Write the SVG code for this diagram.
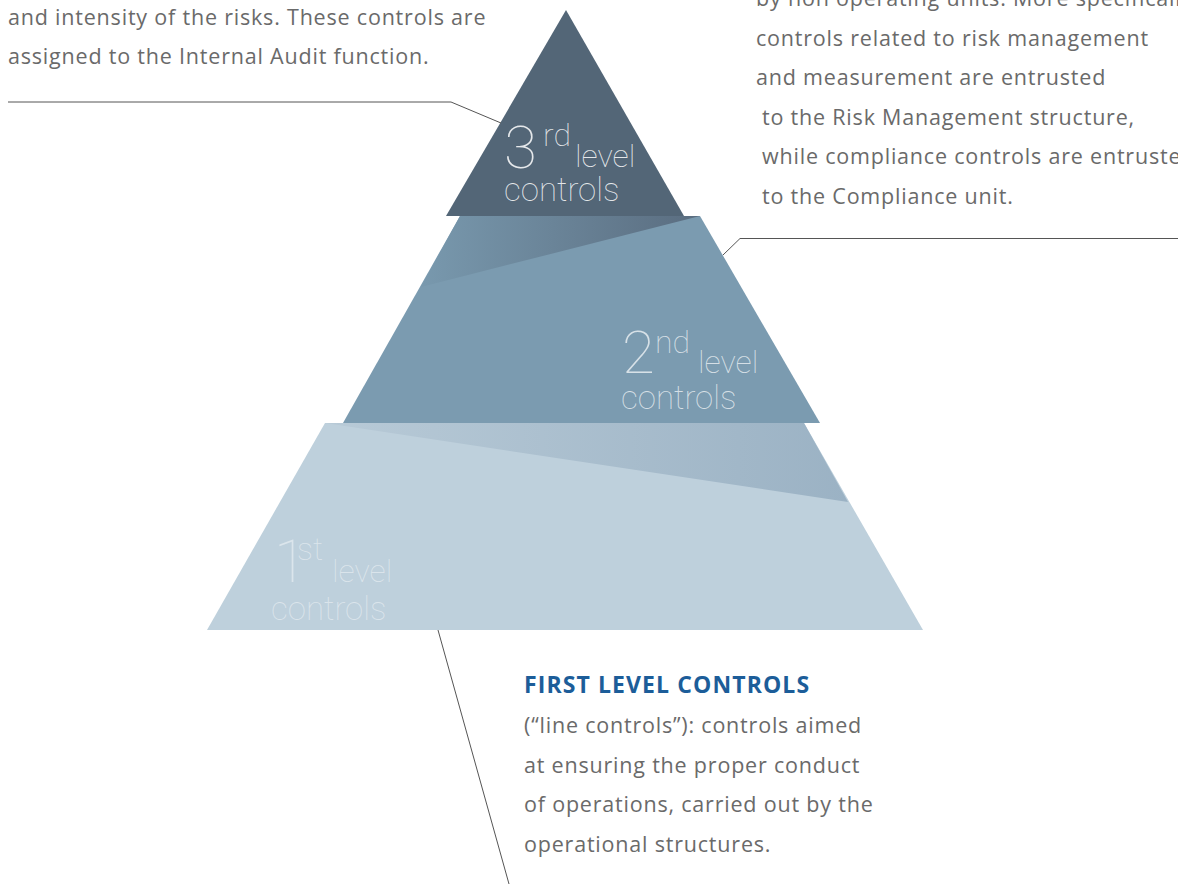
<svg xmlns="http://www.w3.org/2000/svg" width="1178" height="884" viewBox="0 0 1178 884">
<style>
.body{font-family:"Open Sans","Liberation Sans",sans-serif;font-size:21.5px;fill:#6a6a6a;letter-spacing:0.8px}
.head{font-family:"Open Sans","Liberation Sans",sans-serif;font-size:23px;font-weight:700;fill:#1c5d99;letter-spacing:1.1px}
.lbl{font-family:Roboto,"Liberation Sans",sans-serif;font-weight:100;fill:#fff}
.big{font-size:60px}
.mid{font-size:32px}
.ctl{font-size:33px}
.lead{fill:none;stroke:#555;stroke-width:1}
</style>
<defs>
<linearGradient id="g2" gradientUnits="userSpaceOnUse" x1="425" y1="0" x2="700" y2="0">
<stop offset="0" stop-color="#7898ad"/>
<stop offset="1" stop-color="#5a6d80"/>
</linearGradient>
<linearGradient id="g1" gradientUnits="userSpaceOnUse" x1="325" y1="0" x2="848" y2="0">
<stop offset="0" stop-color="#b8cad7"/>
<stop offset="1" stop-color="#9bb2c4"/>
</linearGradient>
</defs>
<rect width="1178" height="884" fill="#fff"/>

<g id="level1">
<polygon points="325,423 804,423 923,630 207,630" fill="#bed0dc"/>
<polygon points="325,423 804,423 848,502" fill="url(#g1)"/>
<text class="lbl" fill-opacity="0.45" x="274" y="582"><tspan class="big">1</tspan><tspan class="mid" x="297" y="560">st</tspan><tspan class="mid" x="332" y="582">level</tspan><tspan class="ctl" x="271" y="620">controls</tspan></text>
</g>

<g id="level2">
<polygon points="460,216 700,216 820,423 343,423" fill="#7b9bb0"/>
<polygon points="460,216 700,216 421,287" fill="url(#g2)"/>
<text class="lbl" fill-opacity="0.7" x="622" y="373"><tspan class="big">2</tspan><tspan class="mid" x="655" y="353">nd</tspan><tspan class="mid" x="698" y="373">level</tspan><tspan class="ctl" x="621" y="409">controls</tspan></text>
</g>

<g id="level3">
<polygon points="566,10 684,216 446,216" fill="#536677"/>
<text class="lbl" fill-opacity="0.85" x="504" y="168"><tspan class="big">3</tspan><tspan class="mid" x="543" y="146">rd</tspan><tspan class="mid" x="575" y="167">level</tspan><tspan class="ctl" x="504" y="201">controls</tspan></text>
</g>

<g id="connectors">
<polyline class="lead" points="8,102 451,102 501,123"/>
<polyline class="lead" points="1178,238.5 740,238.5 723,255"/>
<line class="lead" x1="438" y1="630" x2="509" y2="884"/>
</g>

<g id="text3">
<text class="body" x="8" y="25">and intensity of the risks. These controls are</text>
<text class="body" x="8" y="64">assigned to the Internal Audit function.</text>
</g>

<g id="text2">
<text class="body" x="756" y="6">by non operating units. More specifically</text>
<text class="body" x="756" y="45.5">controls related to risk management</text>
<text class="body" x="756" y="85">and measurement are entrusted</text>
<text class="body" x="762" y="124.5">to the Risk Management structure,</text>
<text class="body" x="762" y="164">while compliance controls are entrusted</text>
<text class="body" x="762" y="203.5">to the Compliance unit.</text>
</g>

<g id="text1">
<text class="head" x="524" y="693">FIRST LEVEL CONTROLS</text>
<text class="body" x="524" y="733">(“line controls”): controls aimed</text>
<text class="body" x="524" y="772.5">at ensuring the proper conduct</text>
<text class="body" x="524" y="812">of operations, carried out by the</text>
<text class="body" x="524" y="851.5">operational structures.</text>
</g>
</svg>
